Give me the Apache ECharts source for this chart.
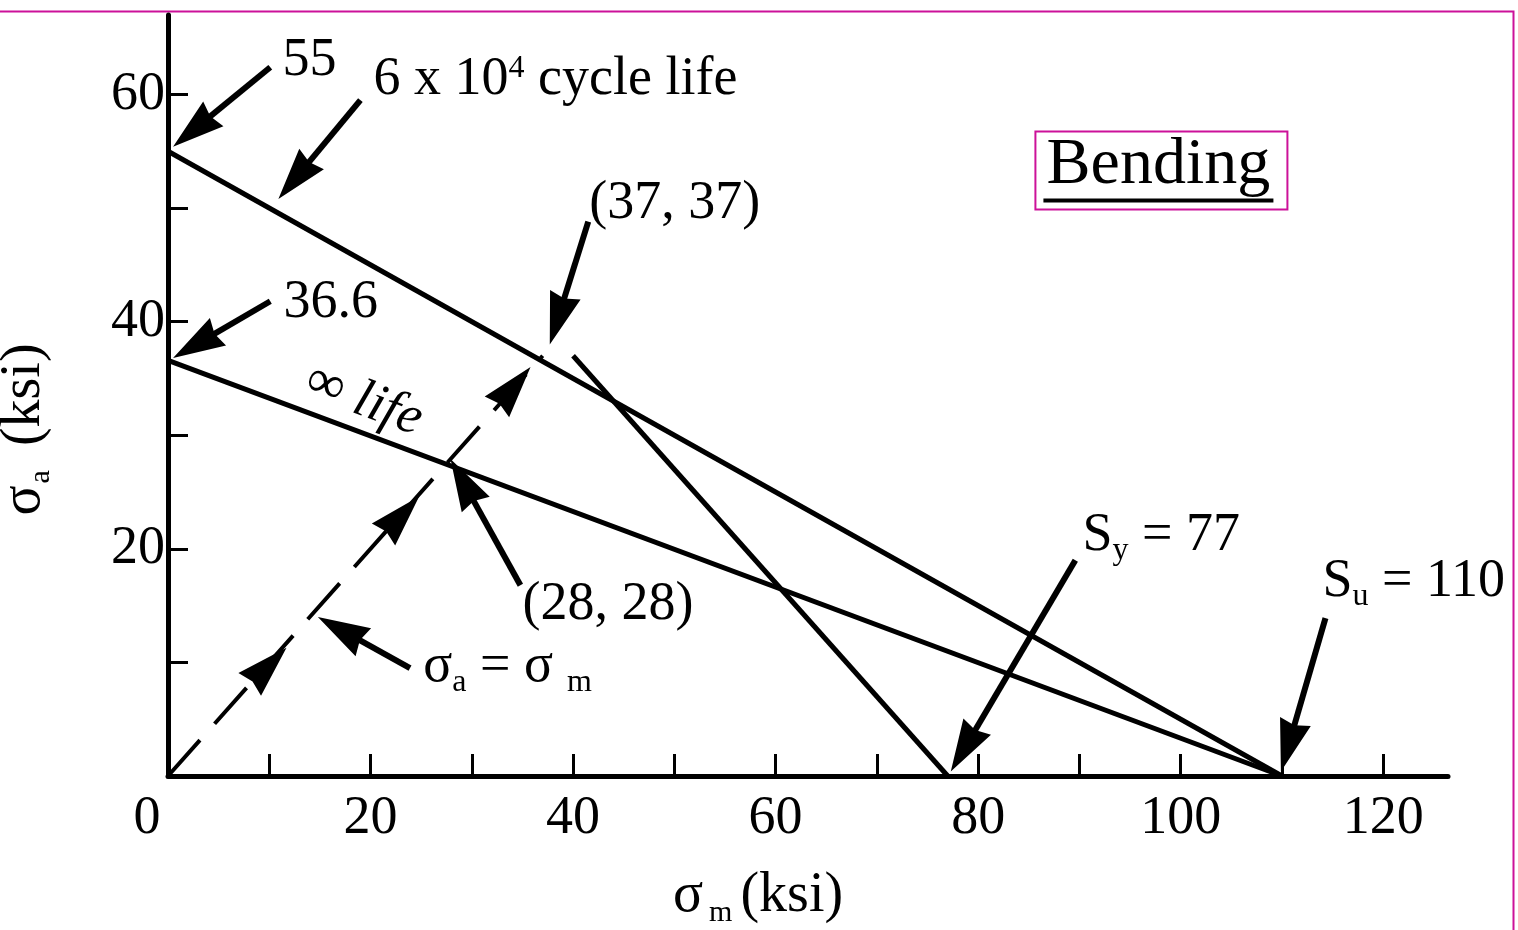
<!DOCTYPE html>
<html>
<head>
<meta charset="utf-8">
<script src="https://cdn.jsdelivr.net/npm/echarts@6/dist/echarts.min.js"></script>
<style>
html,body{margin:0;padding:0;background:#fff;}
#chart{width:1518px;height:930px;}
</style>
</head>
<body>
<div id="chart"></div>
<script>
// ---- data ----
const xTickValues = [10, 20, 30, 40, 50, 60, 70, 80, 90, 100, 110, 120];
const xLabelValues = [0, 20, 40, 60, 80, 100, 120];
const yTickValues = [10, 20, 30, 40, 50, 60];
const yLabelValues = [20, 40, 60];

const fatigueLine = [[0, 55], [110, 0]];      // 6 x 10^4 cycle life
const infiniteLine = [[0, 36.6], [110, 0]];   // infinite life
const yieldLine = [[40, 37], [77, 0]];        // Sy = 77
const loadLine = [[0, 0], [37, 37]];          // sigma_a = sigma_m

// arrowheads along the load line: [fromX, fromY, tipX, tipY]
const loadArrows = [[8, 8, 11.7, 11.3], [21, 21, 24.8, 24.6], [32, 32, 35.8, 36.0]];

// annotation arrows: [tailX, tailY, tipX, tipY]
const annotArrows = [
  [10.1, 62.4, 0.5, 55.4],
  [19.0, 59.5, 10.9, 50.8],
  [10.1, 41.8, 0.5, 36.8],
  [41.5, 48.8, 37.7, 38.0],
  [34.8, 16.8, 27.9, 27.9],
  [23.9, 9.5, 14.8, 14.0],
  [89.6, 19.0, 77.3, 0.4],
  [114.3, 13.9, 109.9, 0.4]
];

// text annotations: [x, y, text]
const annotTexts = [
  [11.3, 62.8, '{t|55}'],
  [20.3, 61.1, '{t|6 x 10}{sup|4}{t| cycle life}'],
  [11.4, 41.5, '{t|36.6}'],
  [41.6, 50.2, '{t|(37, 37)}'],
  [35.0, 14.9, '{t|(28, 28)}'],
  [25.2, 9.4, '{t|σ}{sub|a}{t| = σ}{subm|m}'],
  [90.3, 21.0, '{t|S}{sub|y}{t| = 77}'],
  [114.0, 16.9, '{t|S}{sub|u}{t| = 110}']
];
const lifeText = [[19.3, 33.0, '{t|∞ }{it|life}']];
const boxText = [[98.1, 53.3, '{b|Bending}\n{ul|}']];

const FONT = '"Liberation Serif", "DejaVu Serif", serif';
const MAG = '#cc1199';

const richBase = {
  t: {fontFamily: FONT, fontSize: 54, color: '#000', lineHeight: 58, verticalAlign: 'top'},
  sup: {fontFamily: FONT, fontSize: 32, color: '#000', lineHeight: 30, verticalAlign: 'top'},
  sub: {fontFamily: FONT, fontSize: 32, color: '#000', lineHeight: 30, verticalAlign: 'bottom'},
  subm: {fontFamily: FONT, fontSize: 32, color: '#000', lineHeight: 30, verticalAlign: 'bottom', padding: [0, 0, 0, 14]},
  it: {fontFamily: FONT, fontSize: 54, fontStyle: 'italic', color: '#000', lineHeight: 58}
};

function toPts(arr) { return arr.map(d => ({value: [d[0], d[1]]})); }

function arrowRenderer(withShaft, shaftWidth) {
  return function (params, api) {
    const a = api.coord([api.value(0), api.value(1)]);
    const b = api.coord([api.value(2), api.value(3)]);
    const dx = b[0] - a[0], dy = b[1] - a[1];
    const L = Math.sqrt(dx * dx + dy * dy) || 1;
    const ux = dx / L, uy = dy / L;
    const hl = 52, hw = 16;
    const bx = b[0] - ux * hl, by = b[1] - uy * hl;
    const nx = -uy, ny = ux;
    const children = [{
      type: 'polygon',
      shape: {points: [[b[0], b[1]], [bx + nx * hw, by + ny * hw], [b[0] - ux * (hl - 4), b[1] - uy * (hl - 4)], [bx - nx * hw, by - ny * hw]]},
      style: {fill: '#000'}
    }];
    if (withShaft) {
      children.unshift({
        type: 'line',
        shape: {x1: a[0], y1: a[1], x2: b[0] - ux * 20, y2: b[1] - uy * 20},
        style: {stroke: '#000', lineWidth: shaftWidth}
      });
    }
    return {type: 'group', children: children};
  };
}

const chart = echarts.init(document.getElementById('chart'), null, {renderer: 'canvas'});

const labelCommon = {show: true, color: '#000', textBorderWidth: 0};

const option = {
  animation: false,
  backgroundColor: '#fff',
  graphic: [{
    type: 'rect', left: -10, top: 9,
    shape: {width: 1521, height: 1000},
    style: {fill: 'none', stroke: MAG, lineWidth: 2}
  }],
  grid: {left: 168, right: 70, top: 15, bottom: 154, containLabel: false, outerBoundsMode: 'none'},
  xAxis: {
    type: 'value', min: 0, max: 126.4,
    name: '{s|σ}{m|m}{p|(ksi)}',
    nameLocation: 'middle', nameGap: 92,
    nameTextStyle: {
      rich: {
        s: {fontFamily: FONT, fontSize: 56, color: '#000', lineHeight: 60, verticalAlign: 'top'},
        m: {fontFamily: FONT, fontSize: 30, color: '#000', lineHeight: 26, verticalAlign: 'bottom', padding: [0, 8, 0, 6]},
        p: {fontFamily: FONT, fontSize: 56, color: '#000', lineHeight: 60, verticalAlign: 'top', padding: [0, 100, 0, 0]}
      }
    },
    splitLine: {show: false},
    axisLine: {onZero: false, lineStyle: {color: '#000', width: 5}},
    axisTick: {show: true, inside: true, length: 22, lineStyle: {color: '#000', width: 3}, customValues: xTickValues},
    axisLabel: {
      customValues: xLabelValues,
      margin: 16,
      formatter: v => v === 0 ? '{z|0}' : '{n|' + v + '}',
      rich: {
        n: {fontFamily: FONT, fontSize: 54, color: '#000'},
        z: {fontFamily: FONT, fontSize: 54, color: '#000', padding: [0, 42, 0, 0]}
      }
    }
  },
  yAxis: {
    type: 'value', min: 0, max: 67,
    name: '{s|σ}{a|a}{p|(ksi)}',
    nameLocation: 'middle', nameGap: 112, nameRotate: 90,
    nameTextStyle: {
      rich: {
        s: {fontFamily: FONT, fontSize: 56, color: '#000', lineHeight: 60, verticalAlign: 'top'},
        a: {fontFamily: FONT, fontSize: 30, color: '#000', lineHeight: 26, verticalAlign: 'bottom', padding: [0, 24, 0, 2]},
        p: {fontFamily: FONT, fontSize: 56, color: '#000', lineHeight: 60, verticalAlign: 'top', padding: [0, 68, 0, 0]}
      }
    },
    splitLine: {show: false},
    axisLine: {onZero: false, lineStyle: {color: '#000', width: 5}},
    axisTick: {show: true, inside: true, length: 20, lineStyle: {color: '#000', width: 3}, customValues: yTickValues},
    axisLabel: {
      customValues: yLabelValues,
      margin: 3,
      fontFamily: FONT, fontSize: 54, color: '#000'
    }
  },
  series: [
    {type: 'line', data: fatigueLine, symbol: 'none', lineStyle: {color: '#000', width: 5}},
    {type: 'line', data: infiniteLine, symbol: 'none', lineStyle: {color: '#000', width: 5}},
    {type: 'line', data: yieldLine, symbol: 'none', lineStyle: {color: '#000', width: 5}},
    {type: 'line', data: loadLine, symbol: 'none', lineStyle: {color: '#000', width: 4, type: [48, 22]}},
    {
      type: 'custom', coordinateSystem: 'cartesian2d', silent: true, clip: false,
      encode: {x: [0, 2], y: [1, 3]},
      renderItem: arrowRenderer(false, 4),
      data: loadArrows
    },
    {
      type: 'custom', coordinateSystem: 'cartesian2d', silent: true, clip: false,
      encode: {x: [0, 2], y: [1, 3]},
      renderItem: arrowRenderer(true, 6),
      data: annotArrows
    },
    {
      type: 'scatter', symbolSize: 0, silent: true, itemStyle: {color: '#000', opacity: 1},
      data: toPts(annotTexts),
      label: Object.assign({}, labelCommon, {
        position: [0, 0], align: 'left', verticalAlign: 'middle',
        formatter: p => annotTexts[p.dataIndex][2],
        rich: richBase
      })
    },
    {
      type: 'scatter', symbolSize: 0, silent: true, itemStyle: {color: '#000', opacity: 1},
      data: toPts(lifeText),
      label: Object.assign({}, labelCommon, {
        position: 'inside', rotate: -20, align: 'center', verticalAlign: 'middle',
        formatter: p => lifeText[p.dataIndex][2],
        rich: richBase
      })
    },
    {
      type: 'scatter', symbolSize: 0, silent: true, itemStyle: {color: '#000', opacity: 1},
      data: toPts(boxText),
      label: Object.assign({}, labelCommon, {
        position: 'inside', align: 'center', verticalAlign: 'middle',
        formatter: p => boxText[p.dataIndex][2],
        borderColor: MAG, borderWidth: 2, padding: [2, 14, 6, 8],
        rich: {
          b: {fontFamily: FONT, fontSize: 66, color: '#000', lineHeight: 64},
          ul: {width: 230, height: 4, backgroundColor: '#000', lineHeight: 6}
        }
      })
    }
  ]
};
chart.setOption(option);
</script>
</body>
</html>
